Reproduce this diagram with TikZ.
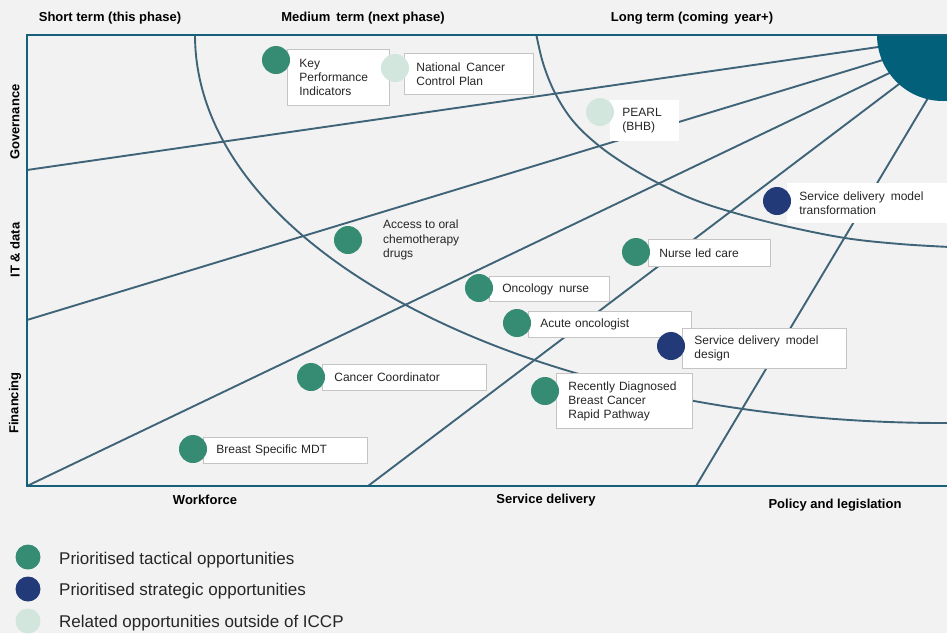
\documentclass[tikz,border=0pt]{standalone}
\usepackage{fontspec}
\setmainfont{Liberation Sans}
\hyphenpenalty=10000
\definecolor{bg}{HTML}{F2F2F2}
\definecolor{frm}{HTML}{17607A}
\definecolor{lnc}{HTML}{3F6478}
\definecolor{sunc}{HTML}{03607A}
\definecolor{tac}{HTML}{358C73}
\definecolor{strat}{HTML}{233A78}
\definecolor{rel}{HTML}{D2E6DE}
\definecolor{boxgrey}{HTML}{C4C4C4}
\definecolor{txt}{HTML}{262626}
\begin{document}
\begin{tikzpicture}[x=1pt,y=-1pt,
  frame/.style={draw=frm,line width=2.6pt},
  ln/.style={draw=lnc,line width=1.9pt},
  ax/.style={font=\fontsize{13}{15}\selectfont\bfseries,text=black,inner sep=0pt},
  opp/.style={fill=white,draw=boxgrey,line width=0.8pt,inner xsep=12pt,inner ysep=0pt,
    anchor=north west,align=left,text=txt,font=\fontsize{12}{14}\selectfont},
  oppnb/.style={opp,draw=none},
  dot/.style={circle,minimum size=28pt,inner sep=0pt},
  tacdot/.style={dot,fill=tac},
  stratdot/.style={dot,fill=strat},
  reldot/.style={dot,fill=rel},
  legdot/.style={circle,minimum size=25pt,inner sep=0pt},
  legtxt/.style={anchor=west,inner sep=0pt,text=txt,font=\fontsize{17}{19}\selectfont}
]
\useasboundingbox (0,0) rectangle (947,633);
\fill[bg] (0,0) rectangle (947,633);

% ray end coordinates
\coordinate (r1a) at (27,170);  \coordinate (r1b) at (892,45);
\coordinate (r2a) at (27,320);  \coordinate (r2b) at (896,56);
\coordinate (r3a) at (27,486);  \coordinate (r3b) at (902,67);
\coordinate (r4a) at (368,486); \coordinate (r4b) at (911,75);
\coordinate (r5a) at (696,486); \coordinate (r5b) at (934,88);

\begin{scope}
  \clip (27,35) rectangle (947,486);
  \draw[ln] (943,35) ellipse [x radius=748, y radius=388];
  \draw[ln] plot[smooth,tension=0.6] coordinates {(536,33) (543,63) (555,93) (573,121) (598,145) (628,166) (660,184) (695,200) (735,213) (785,226) (845,238) (900,244) (950,247)};
  \draw[ln] (r1a) -- (r1b);
  \draw[ln] (r2a) -- (r2b);
  \draw[ln] (r3a) -- (r3b);
  \draw[ln] (r4a) -- (r4b);
  \draw[ln] (r5a) -- (r5b);
  \node[circle,fill=sunc,minimum size=132pt,inner sep=0pt] (sun) at (943,35) {};
\end{scope}

% frame
\draw[frame] (950,35) -- (27,35) -- (27,486) -- (950,486);

% headings
\node[ax] (h1) at (110,18) {Short term (this phase)};
\node[ax] (h2) at (363,18) {Medium\, term (next phase)};
\node[ax] (h3) at (692,18) {Long term (coming\, year+)};
\node[ax,rotate=90] (v1) at (15,122) {Governance};
\node[ax,rotate=90] (v2) at (15,250) {IT \& data};
\node[ax,rotate=90] (v3) at (15,403) {Financing};
\node[ax] (b1) at (205,500) {Workforce};
\node[ax] (b2) at (546,500) {Service delivery};
\node[ax] (b3) at (835,505) {Policy and legislation};

% opportunity boxes
\node[opp,minimum width=102pt,minimum height=56pt,text width=78pt] (kpi) at (287,49) {Key\\Performance\\Indicators};
\node[opp,minimum width=129pt,minimum height=41pt,text width=105pt] (nccp) at (404,53) {National\, Cancer\\Control Plan};
\node[oppnb,minimum width=69pt,minimum height=41pt,text width=45pt] (pearl) at (610,100) {PEARL\\(BHB)};
\node[oppnb,minimum width=175pt,minimum height=40pt,text width=151pt] (sdmt) at (787,183) {Service delivery\, model\\transformation};
\node[anchor=west,align=left,inner sep=0pt,text=txt,font=\fontsize{12}{14.5}\selectfont] (oral) at (383,240) {Access to oral\\chemotherapy\\drugs};
\node[opp,inner xsep=11pt,minimum width=122pt,minimum height=27pt,text width=100pt] (nurse) at (648,239) {Nurse led care};
\node[opp,inner xsep=13pt,minimum width=120pt,minimum height=25pt,text width=94pt] (onc) at (489,276) {Oncology\, nurse};
\node[opp,minimum width=163pt,minimum height=26pt,text width=139pt] (acute) at (528,311) {Acute oncologist};
\node[opp,minimum width=164pt,minimum height=40pt,text width=140pt] (sdmd) at (682,328) {Service delivery\, model\\design};
\node[opp,minimum width=136pt,minimum height=55pt,text width=112pt] (rdbc) at (556,373) {\mbox{Recently Diagnosed}\\Breast Cancer\\Rapid Pathway};
\node[opp,minimum width=164pt,minimum height=26pt,text width=140pt] (cc) at (322,364) {Cancer Coordinator};
\node[opp,inner xsep=13pt,minimum width=164pt,minimum height=26pt,text width=138pt] (bsmdt) at (203,437) {Breast Specific MDT};

% dots
\node[tacdot] (dkpi) at (276,60) {};
\node[reldot] (dnccp) at (395,68) {};
\node[reldot] (dpearl) at (600,112) {};
\node[stratdot] (dsdmt) at (777,201) {};
\node[tacdot] (doral) at (348,240) {};
\node[tacdot] (dnurse) at (636,252) {};
\node[tacdot] (donc) at (479,288) {};
\node[tacdot] (dacute) at (517,323) {};
\node[stratdot] (dsdmd) at (671,346) {};
\node[tacdot] (drdbc) at (545,391) {};
\node[tacdot] (dcc) at (311,377) {};
\node[tacdot] (dbsmdt) at (193,449) {};

% legend
\node[legdot,fill=tac] (l1) at (28,557) {};
\node[legdot,fill=strat] (l2) at (28,589) {};
\node[legdot,fill=rel] (l3) at (28,621) {};
\node[legtxt] (t1) at (59,560) {Prioritised tactical opportunities};
\node[legtxt] (t2) at (59,591) {Prioritised strategic opportunities};
\node[legtxt] (t3) at (59,623) {Related opportunities outside of ICCP};
\end{tikzpicture}
\end{document}
